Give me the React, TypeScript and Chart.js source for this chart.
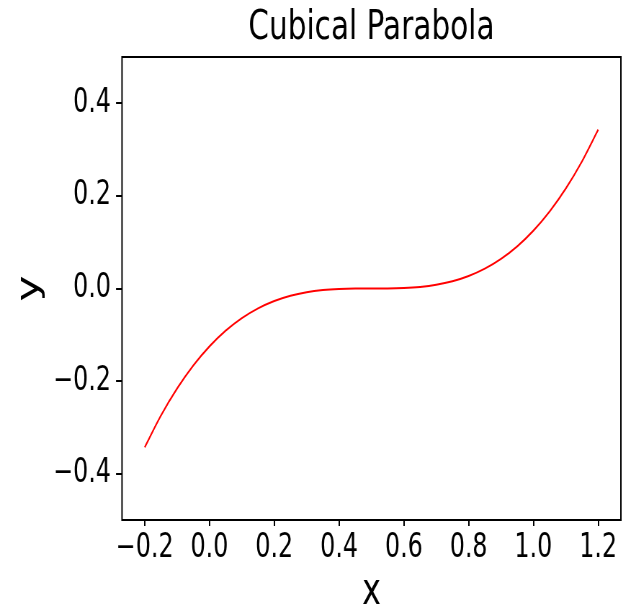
import React, { useEffect, useRef } from "react";
import { Chart, registerables } from "chart.js";

Chart.register(...registerables);

const xValues = [-0.2, -0.15, -0.1, -0.05, 0.0, 0.05, 0.1, 0.15, 0.2, 0.25, 0.3, 0.35, 0.4, 0.45, 0.5, 0.55, 0.6, 0.65, 0.7, 0.75, 0.8, 0.85, 0.9, 0.95, 1.0, 1.05, 1.1, 1.15, 1.2];
const yValues = [-0.343, -0.2746, -0.216, -0.1664, -0.125, -0.0911, -0.064, -0.0429, -0.027, -0.0156, -0.008, -0.0034, -0.001, -0.0001, 0.0, 0.0001, 0.001, 0.0034, 0.008, 0.0156, 0.027, 0.0429, 0.064, 0.0911, 0.125, 0.1664, 0.216, 0.2746, 0.343];
const xTicks = [-0.2, 0.0, 0.2, 0.4, 0.6, 0.8, 1.0, 1.2];
const yTicks = [-0.4, -0.2, 0.0, 0.2, 0.4];
const titleText = "Cubical Parabola";
const xLabel = "x";
const yLabel = "y";

const RATIO = 0.7203; // horizontal squeeze of the picture
const CW = 883;
const CH = 610;
const FONT = "'DejaVu Sans', sans-serif";

const fmt = (v: number) => {
  const s = Number(v).toFixed(1);
  return s.replace("-", "\u2212");
};

const boxPlugin = {
  id: "boxPlugin",
  afterDatasetsDraw(chart: any) {
    const { ctx, chartArea } = chart;
    ctx.save();
    ctx.strokeStyle = "#000";
    ctx.lineWidth = 2;
    ctx.strokeRect(chartArea.left, chartArea.top, chartArea.right - chartArea.left, chartArea.bottom - chartArea.top);
    ctx.restore();
  },
};

export default function App() {
  const ref = useRef<HTMLCanvasElement | null>(null);
  useEffect(() => {
    document.body.style.margin = "0";
    const canvas = ref.current!;
    const chart = new Chart(canvas, {
      type: "line",
      data: {
        datasets: [
          {
            data: xValues.map((x, i) => ({ x, y: yValues[i] })),
            borderColor: "#ff0000",
            borderWidth: 2,
            pointRadius: 0,
            fill: false,
            cubicInterpolationMode: "monotone",
          },
        ],
      },
      plugins: [boxPlugin],
      options: {
        animation: false,
        responsive: false,
        devicePixelRatio: 1,
        layout: { padding: { left: 0, right: 21, top: 0, bottom: 0 } },
        plugins: {
          legend: { display: false },
          tooltip: { enabled: false },
          title: {
            display: true,
            fullSize: false,
            text: titleText,
            color: "#000",
            font: { family: FONT, size: 41, weight: "normal", lineHeight: 1.2 },
            padding: { top: 4, bottom: 3.8 },
          },
        },
        scales: {
          x: {
            type: "linear",
            min: -0.27,
            max: 1.27,
            afterBuildTicks: (s: any) => {
              s.ticks = xTicks.map((v) => ({ value: v }));
            },
            afterFit: (s: any) => {
              s.height = 90;
            },
            ticks: {
              color: "#000",
              font: { family: FONT, size: 33 },
              padding: 3,
              maxRotation: 0,
              autoSkip: false,
              callback: (v: any) => fmt(v),
            },
            grid: {
              display: true,
              drawOnChartArea: false,
              drawTicks: true,
              tickLength: 6,
              color: "#000",
              lineWidth: 2,
            },
            border: { display: false },
            title: {
              display: true,
              text: xLabel,
              color: "#000",
              font: { family: FONT, size: 44, lineHeight: 0.8 },
              padding: { top: 0, bottom: 0 },
            },
          },
          y: {
            type: "linear",
            min: -0.5,
            max: 0.5,
            afterBuildTicks: (s: any) => {
              s.ticks = yTicks.map((v) => ({ value: v }));
            },
            afterFit: (s: any) => {
              s.width = 169.4;
            },
            ticks: {
              color: "#000",
              font: { family: FONT, size: 33 },
              padding: 7,
              autoSkip: false,
              callback: (v: any) => fmt(v),
            },
            grid: {
              display: true,
              drawOnChartArea: false,
              drawTicks: true,
              tickLength: 8.3,
              color: "#000",
              lineWidth: 2,
            },
            border: { display: false },
            title: {
              display: true,
              text: yLabel,
              color: "#000",
              font: { family: FONT, size: 44, lineHeight: 0.8 },
              padding: { top: 24, bottom: 0 },
            },
          },
        },
      },
    } as any);
    return () => chart.destroy();
  }, []);
  return (
    <canvas
      ref={ref}
      width={CW}
      height={CH}
      style={{ width: `${Math.round(CW * RATIO)}px`, height: `${CH}px`, display: "block" }}
    />
  );
}
